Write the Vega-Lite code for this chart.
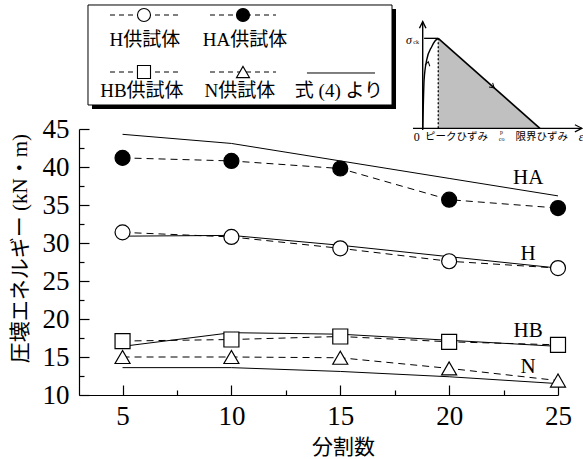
{
  "$schema": "https://vega.github.io/schema/vega-lite/v6.json",
  "width": 479,
  "height": 266,
  "autosize": {"type": "none"},
  "padding": {"left": 79, "top": 129, "right": 25, "bottom": 64},
  "background": "white",
  "config": {"view": {"stroke": null}},
  "encoding": {
    "x": {
      "field": "x", "type": "quantitative",
      "scale": {"domain": [3, 25], "nice": false, "zero": false},
      "axis": {
        "title": "分割数",
        "values": [5, 7.5, 10, 12.5, 15, 17.5, 20, 22.5, 25],
        "labelExpr": "datum.value % 5 === 0 ? datum.label : ''",
        "tickSize": -10,
        "tickDash": {"condition": {"test": "datum.value % 5 !== 0", "value": [5, 20]}, "value": [20, 0]},
        "labelPadding": 18,
        "labelFlush": false,
        "labelOverlap": false,
        "labelFont": "Liberation Serif",
        "labelFontSize": 27,
        "labelColor": "black",
        "domainColor": "black",
        "tickColor": "black",
        "domainWidth": 1.2,
        "tickWidth": 1.2,
        "grid": false,
        "titleFont": "Noto Sans CJK JP",
        "titleFontSize": 21,
        "titleFontWeight": "normal",
        "titleColor": "black",
        "titleX": 264,
        "titleY": 52,
        "titleAlign": "center",
        "titleBaseline": "middle"
      }
    },
    "y": {
      "field": "y", "type": "quantitative",
      "scale": {"domain": [10, 45], "nice": false, "zero": false},
      "axis": {
        "title": "圧壊エネルギー (kN・m)",
        "values": [10, 12.5, 15, 17.5, 20, 22.5, 25, 27.5, 30, 32.5, 35, 37.5, 40, 42.5, 45],
        "labelExpr": "datum.value % 5 === 0 ? datum.label : ''",
        "tickSize": -10,
        "tickDash": {"condition": {"test": "datum.value % 5 !== 0", "value": [5, 20]}, "value": [20, 0]},
        "labelPadding": 20,
        "labelFlush": false,
        "labelOverlap": false,
        "labelFont": "Liberation Serif",
        "labelFontSize": 27,
        "labelColor": "black",
        "domainColor": "black",
        "tickColor": "black",
        "domainWidth": 1.2,
        "tickWidth": 1.2,
        "grid": false,
        "titleFont": "'Liberation Serif', 'Noto Sans CJK JP'",
        "titleFontSize": 21,
        "titleFontWeight": "normal",
        "titleColor": "black",
        "titleX": -59,
        "titleY": 119,
        "titleAlign": "center",
        "titleBaseline": "middle"
      }
    }
  },
  "layer": [
    {
      "data": {"values": [{"x": 3.597, "x2": 17.56, "y": 60.79, "y2": 47.63}]},
      "mark": {"type": "rect", "color": "black"},
      "encoding": {"x2": {"field": "x2"}, "y2": {"field": "y2"}}
    },
    {
      "data": {"values": [{"x": 3.413, "x2": 17.376, "y": 61.316, "y2": 48.158}]},
      "mark": {"type": "rect", "fill": "white", "stroke": "black", "strokeWidth": 1},
      "encoding": {"x2": {"field": "x2"}, "y2": {"field": "y2"}}
    },
    {
      "data": {"values": [
        {"s": "H", "x": 4.424, "y": 60.0}, {"s": "H", "x": 7.547, "y": 60.0},
        {"s": "HA", "x": 9.017, "y": 60.0}, {"s": "HA", "x": 12.048, "y": 60.0},
        {"s": "HB", "x": 4.424, "y": 52.5}, {"s": "HB", "x": 7.547, "y": 52.5},
        {"s": "N", "x": 9.017, "y": 52.5}, {"s": "N", "x": 12.048, "y": 52.5}
      ]},
      "mark": {"type": "line", "color": "black", "strokeWidth": 1, "strokeDash": [5, 4]},
      "encoding": {"detail": {"field": "s"}}
    },
    {
      "data": {"values": [{"x": 13.47, "y": 52.37}, {"x": 16.595, "y": 52.37}]},
      "mark": {"type": "line", "color": "black", "strokeWidth": 1},
      "encoding": {}
    },
    {
      "data": {"values": [
        {"s": "H", "x": 5.985, "y": 60.0},
        {"s": "HA", "x": 10.532, "y": 60.0},
        {"s": "HB", "x": 5.985, "y": 52.5},
        {"s": "N", "x": 10.532, "y": 52.5}
      ]},
      "mark": {"type": "point", "filled": true, "stroke": "black", "strokeWidth": 1.1, "opacity": 1, "size": 170},
      "encoding": {
        "shape": {"field": "s", "type": "nominal", "scale": {"domain": ["H", "HA", "HB", "N"], "range": ["circle", "circle", "square", "triangle-up"]}, "legend": null},
        "fill": {"field": "s", "type": "nominal", "scale": {"domain": ["H", "HA", "HB", "N"], "range": ["white", "black", "white", "white"]}, "legend": null}
      }
    },
    {
      "data": {"values": [
        {"t": "H供試体", "x": 6.03, "y": 56.71},
        {"t": "HA供試体", "x": 10.62, "y": 56.71},
        {"t": "HB供試体", "x": 5.89, "y": 50.0},
        {"t": "N供試体", "x": 10.39, "y": 50.0},
        {"t": "式 (4) より", "x": 14.94, "y": 50.0}
      ]},
      "mark": {"type": "text", "font": "'Liberation Serif', 'Noto Sans CJK JP'", "fontSize": 19, "color": "black", "align": "center", "baseline": "middle"},
      "encoding": {"text": {"field": "t"}}
    },
    {
      "data": {"values": [{"x": 19.5, "y": 56.93, "y2": 45.09}, {"x": 24.17, "y": 45.09, "y2": 45.09}]},
      "mark": {"type": "area", "color": "#c0c0c0", "opacity": 1},
      "encoding": {"y2": {"field": "y2"}}
    },
    {
      "data": {"values": [{"x": 19.5, "y": 56.93}, {"x": 24.17, "y": 45.09}]},
      "mark": {"type": "line", "color": "black", "strokeWidth": 1.6},
      "encoding": {}
    },
    {
      "data": {"values": [{"x": 19.5, "y": 56.93, "y2": 45.09}]},
      "mark": {"type": "rule", "color": "black", "strokeWidth": 1.3, "strokeDash": [2, 2]},
      "encoding": {"y2": {"field": "y2"}}
    },
    {
      "data": {"values": [{"x": 18.85, "x2": 19.5, "y": 56.93}]},
      "mark": {"type": "rule", "color": "black", "strokeWidth": 1.3},
      "encoding": {"x2": {"field": "x2"}}
    },
    {
      "data": {"values": [
        {"x": 18.786, "y": 45.09}, {"x": 18.8, "y": 46.6}, {"x": 18.82, "y": 48.8},
        {"x": 18.85, "y": 51.45}, {"x": 18.97, "y": 54.08}, {"x": 19.2, "y": 55.83},
        {"x": 19.35, "y": 56.58}, {"x": 19.5, "y": 56.93}
      ]},
      "mark": {"type": "line", "color": "black", "strokeWidth": 1.4, "interpolate": "monotone"},
      "encoding": {}
    },
    {
      "data": {"values": [{"x": 18.786, "y": 44.87, "y2": 59.12}]},
      "mark": {"type": "rule", "color": "black", "strokeWidth": 1.4},
      "encoding": {"y2": {"field": "y2"}}
    },
    {
      "data": {"values": [{"x": 18.34, "x2": 26.1, "y": 45.09}]},
      "mark": {"type": "rule", "color": "black", "strokeWidth": 1.2},
      "encoding": {"x2": {"field": "x2"}}
    },
    {
      "data": {"values": [{"x": 18.786, "y": 59.12}]},
      "mark": {"type": "point", "shape": "M-0.5,1L0,0L0.5,1", "filled": false, "stroke": "black", "strokeWidth": 1.4, "size": 170, "opacity": 1},
      "encoding": {}
    },
    {
      "data": {"values": [{"x": 26.1, "y": 45.09}]},
      "mark": {"type": "point", "shape": "M-0.5,1L0,0L0.5,1", "filled": false, "stroke": "black", "strokeWidth": 1.2, "size": 200, "angle": 90, "opacity": 1},
      "encoding": {}
    },
    {
      "data": {"values": [{"x": 19.04, "y": 53.86}]},
      "mark": {"type": "point", "shape": "M-0.6,1L0,0L0.6,1", "filled": false, "stroke": "black", "strokeWidth": 1, "size": 70, "angle": 12, "opacity": 1},
      "encoding": {}
    },
    {
      "data": {"values": [{"x": 22.07, "y": 50.41}]},
      "mark": {"type": "point", "shape": "M-0.6,1L0,0L0.6,1", "filled": false, "stroke": "black", "strokeWidth": 1, "size": 80, "angle": 131.5, "opacity": 1},
      "encoding": {}
    },
    {
      "data": {"values": [{"t": "0", "x": 18.51, "y": 43.99}]},
      "mark": {"type": "text", "font": "Liberation Serif", "fontSize": 12, "color": "black", "align": "center", "baseline": "middle"},
      "encoding": {"text": {"field": "t"}}
    },
    {
      "data": {"values": [{"t": "ピークひずみ", "x": 20.34, "y": 43.95}, {"t": "限界ひずみ", "x": 24.25, "y": 43.95}]},
      "mark": {"type": "text", "font": "Noto Sans CJK JP", "fontSize": 10.5, "color": "black", "align": "center", "baseline": "middle"},
      "encoding": {"text": {"field": "t"}}
    },
    {
      "data": {"values": [{"t": "p", "x": 22.41, "y": 44.6}, {"t": "co", "x": 22.41, "y": 43.68}, {"t": "ck", "x": 18.48, "y": 56.49}]},
      "mark": {"type": "text", "font": "Liberation Serif", "fontSize": 6, "color": "black", "align": "center", "baseline": "middle"},
      "encoding": {"text": {"field": "t"}}
    },
    {
      "data": {"values": [{"t": "σ", "x": 18.16, "y": 56.71}, {"t": "ε", "x": 26.06, "y": 43.9}]},
      "mark": {"type": "text", "font": "Liberation Serif", "fontSize": 12, "fontStyle": "italic", "color": "black", "align": "center", "baseline": "middle"},
      "encoding": {"text": {"field": "t"}}
    },
    {
      "data": {"values": [
        {"s": "H", "x": 5, "y": 30.9}, {"s": "H", "x": 10, "y": 31.0}, {"s": "H", "x": 15, "y": 29.7}, {"s": "H", "x": 20, "y": 28.2}, {"s": "H", "x": 25, "y": 26.7},
        {"s": "HA", "x": 5, "y": 44.3}, {"s": "HA", "x": 10, "y": 43.1}, {"s": "HA", "x": 15, "y": 40.8}, {"s": "HA", "x": 20, "y": 38.5}, {"s": "HA", "x": 25, "y": 36.2},
        {"s": "HB", "x": 5, "y": 16.4}, {"s": "HB", "x": 10, "y": 18.2}, {"s": "HB", "x": 15, "y": 18.0}, {"s": "HB", "x": 20, "y": 17.2}, {"s": "HB", "x": 25, "y": 16.4},
        {"s": "N", "x": 5, "y": 13.6}, {"s": "N", "x": 10, "y": 13.6}, {"s": "N", "x": 15, "y": 13.1}, {"s": "N", "x": 20, "y": 12.4}, {"s": "N", "x": 25, "y": 11.5}
      ]},
      "mark": {"type": "line", "color": "black", "strokeWidth": 1},
      "encoding": {"detail": {"field": "s"}}
    },
    {
      "data": {"name": "exp", "values": [
        {"s": "H", "x": 5, "y": 31.4}, {"s": "H", "x": 10, "y": 30.8}, {"s": "H", "x": 15, "y": 29.3}, {"s": "H", "x": 20, "y": 27.6}, {"s": "H", "x": 25, "y": 26.7},
        {"s": "HA", "x": 5, "y": 41.2}, {"s": "HA", "x": 10, "y": 40.8}, {"s": "HA", "x": 15, "y": 39.8}, {"s": "HA", "x": 20, "y": 35.7}, {"s": "HA", "x": 25, "y": 34.6},
        {"s": "HB", "x": 5, "y": 17.1}, {"s": "HB", "x": 10, "y": 17.3}, {"s": "HB", "x": 15, "y": 17.7}, {"s": "HB", "x": 20, "y": 17.0}, {"s": "HB", "x": 25, "y": 16.6},
        {"s": "N", "x": 5, "y": 15.0}, {"s": "N", "x": 10, "y": 15.0}, {"s": "N", "x": 15, "y": 14.9}, {"s": "N", "x": 20, "y": 13.5}, {"s": "N", "x": 25, "y": 11.9}
      ]},
      "layer": [
        {
          "mark": {"type": "line", "color": "black", "strokeWidth": 1, "strokeDash": [7, 5]},
          "encoding": {"detail": {"field": "s"}}
        },
        {
          "mark": {"type": "point", "filled": true, "stroke": "black", "strokeWidth": 1.2, "opacity": 1},
          "encoding": {
            "shape": {"field": "s", "type": "nominal", "scale": {"domain": ["H", "HA", "HB", "N"], "range": ["circle", "circle", "square", "triangle-up"]}, "legend": null},
            "fill": {"field": "s", "type": "nominal", "scale": {"domain": ["H", "HA", "HB", "N"], "range": ["white", "black", "white", "white"]}, "legend": null},
            "size": {"field": "s", "type": "ordinal", "scale": {"domain": ["H", "HA", "HB", "N"], "range": [225, 225, 170, 200]}, "legend": null}
          }
        }
      ]
    },
    {
      "data": {"values": [
        {"t": "HA", "x": 23.63, "y": 38.5},
        {"t": "H", "x": 23.63, "y": 28.6},
        {"t": "HB", "x": 23.63, "y": 18.46},
        {"t": "N", "x": 23.63, "y": 13.7}
      ]},
      "mark": {"type": "text", "font": "Liberation Serif", "fontSize": 21, "color": "black", "align": "center", "baseline": "middle"},
      "encoding": {"text": {"field": "t"}}
    }
  ]
}
